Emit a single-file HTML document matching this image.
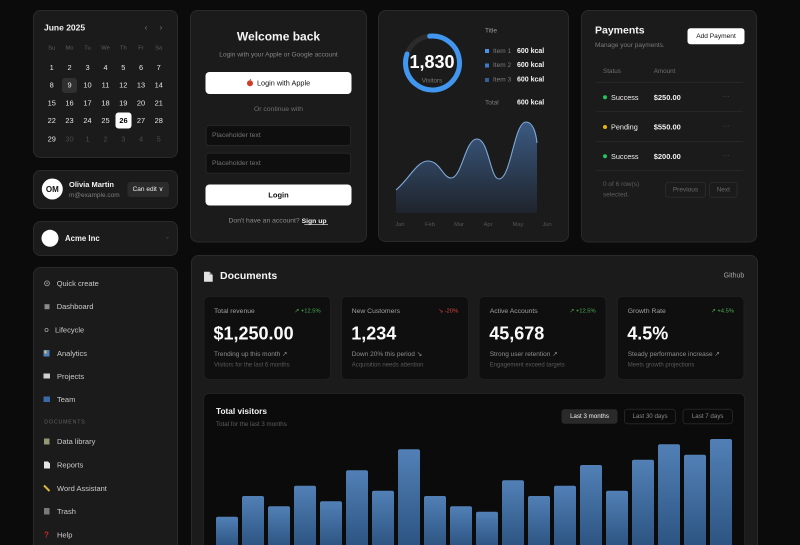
<!DOCTYPE html>
<html><head><meta charset="utf-8"><style>
html,body{margin:0;padding:0;background:#0b0b0b;width:800px;height:545px;overflow:hidden}
svg{display:block}
text{font-family:"Liberation Sans",sans-serif}
</style></head><body>
<svg width="800" height="545" viewBox="0 0 800 545" xmlns="http://www.w3.org/2000/svg" dominant-baseline="central">
<defs>
<linearGradient id="bar" x1="0" y1="0" x2="0" y2="1"><stop offset="0" stop-color="#5280b6"/><stop offset="1" stop-color="#2c5482"/></linearGradient>
<linearGradient id="area" x1="0" y1="122" x2="0" y2="213" gradientUnits="userSpaceOnUse"><stop offset="0" stop-color="#3b5a82"/><stop offset="1" stop-color="#1f242c"/></linearGradient>
</defs>
<rect width="800" height="545" fill="#0b0b0b"/>

<!-- Calendar -->
<rect x="33.5" y="10.5" width="144" height="147" rx="7" fill="#1b1b1b" stroke="#2a2a2a"/>
<text x="44" y="27.5" font-size="8.5" font-weight="bold" fill="#f2f2f2">June 2025</text>
<text x="146" y="27.5" font-size="8" fill="#777" text-anchor="middle">‹</text>
<text x="161" y="27.5" font-size="8" fill="#777" text-anchor="middle">›</text>
<g font-size="5.8" fill="#5e5e5e" text-anchor="middle">
<text x="51.7" y="48.7">Su</text><text x="69.5" y="48.7">Mo</text><text x="87.5" y="48.7">Tu</text><text x="105.5" y="48.7">We</text><text x="123.3" y="48.7">Th</text><text x="141" y="48.7">Fr</text><text x="158.7" y="48.7">Sa</text>
</g>
<rect x="62" y="78" width="15" height="15" rx="3" fill="#303030"/>
<rect x="115.5" y="112.5" width="16" height="16" rx="3" fill="#ffffff"/>
<g font-size="7.4" fill="#e6e6e6" text-anchor="middle">
<text x="51.7" y="67.3">1</text><text x="69.5" y="67.3">2</text><text x="87.5" y="67.3">3</text><text x="105.5" y="67.3">4</text><text x="123.3" y="67.3">5</text><text x="141" y="67.3">6</text><text x="158.7" y="67.3">7</text>
<text x="51.7" y="85.2">8</text><text x="69.5" y="85.2">9</text><text x="87.5" y="85.2">10</text><text x="105.5" y="85.2">11</text><text x="123.3" y="85.2">12</text><text x="141" y="85.2">13</text><text x="158.7" y="85.2">14</text>
<text x="51.7" y="102.9">15</text><text x="69.5" y="102.9">16</text><text x="87.5" y="102.9">17</text><text x="105.5" y="102.9">18</text><text x="123.3" y="102.9">19</text><text x="141" y="102.9">20</text><text x="158.7" y="102.9">21</text>
<text x="51.7" y="120.7">22</text><text x="69.5" y="120.7">23</text><text x="87.5" y="120.7">24</text><text x="105.5" y="120.7">25</text><text x="123.5" y="120.7" fill="#000" font-weight="bold">26</text><text x="141" y="120.7">27</text><text x="158.7" y="120.7">28</text>
<text x="51.7" y="139">29</text>
</g>
<g font-size="7.4" fill="#4a4a4a" text-anchor="middle">
<text x="69.5" y="139">30</text><text x="87.5" y="139">1</text><text x="105.5" y="139">2</text><text x="123.3" y="139">3</text><text x="141" y="139">4</text><text x="158.7" y="139">5</text>
</g>

<!-- User card -->
<rect x="33.5" y="170.5" width="144" height="38" rx="7" fill="#1b1b1b" stroke="#2a2a2a"/>
<circle cx="52.3" cy="189" r="10.5" fill="#fff"/>
<text x="52.3" y="189.3" font-size="8" font-weight="bold" fill="#111" text-anchor="middle">OM</text>
<text x="69" y="184.3" font-size="7.5" font-weight="bold" fill="#f2f2f2">Olivia Martin</text>
<text x="69" y="195.7" font-size="6.5" fill="#7e7e7e">m@example.com</text>
<rect x="127.5" y="182" width="41.5" height="15" rx="3" fill="#2b2b2b"/>
<text x="148" y="189.5" font-size="6.5" fill="#eee" text-anchor="middle">Can edit ∨</text>

<!-- Acme -->
<rect x="33.5" y="221.5" width="144" height="34" rx="7" fill="#1b1b1b" stroke="#2a2a2a"/>
<circle cx="50" cy="238.3" r="8.5" fill="#fff"/>
<text x="65" y="238.3" font-size="7.8" font-weight="bold" fill="#f2f2f2">Acme Inc</text>
<text x="167.5" y="237.5" font-size="5" fill="#666" text-anchor="middle">⌄</text>

<!-- Sidebar -->
<rect x="33.5" y="267.5" width="144" height="290" rx="7" fill="#1b1b1b" stroke="#2a2a2a"/>
<g font-size="7.5" fill="#cacaca">
<circle cx="47" cy="283.3" r="2.4" fill="none" stroke="#999" stroke-width="0.9"/><circle cx="47" cy="283.3" r="0.8" fill="#999"/>
<text x="56.7" y="283.3">Quick create</text>
<rect x="44.5" y="304.2" width="5" height="5" fill="#8a8a8a"/>
<text x="56.7" y="306.7">Dashboard</text>
<circle cx="46.5" cy="330" r="1.6" fill="none" stroke="#999" stroke-width="0.8"/>
<text x="55" y="330">Lifecycle</text>
<rect x="43.5" y="350" width="6" height="6.5" fill="#4d7fb8"/><rect x="44.5" y="350.5" width="2" height="3" fill="#d9c96a"/>
<text x="57" y="353.3">Analytics</text>
<rect x="43.5" y="373.5" width="6.5" height="5" fill="#d0d0d0"/>
<text x="57" y="376.3">Projects</text>
<rect x="43.5" y="396.5" width="6.5" height="5.5" fill="#3a6aa6"/>
<text x="57" y="399.3">Team</text>
<text x="44.3" y="422.7" font-size="5.3" fill="#636363" letter-spacing="0.8">DOCUMENTS</text>
<rect x="44" y="438.5" width="5.5" height="6" fill="#8f9a74"/>
<text x="57" y="441.7">Data library</text>
<path d="M44 461.5h4l2 2v5h-6z" fill="#e6e6e6"/>
<text x="57" y="465">Reports</text>
<path d="M44 485.5l5.5 5.5" stroke="#e0b440" stroke-width="2"/>
<text x="57" y="488.3">Word Assistant</text>
<rect x="44" y="508" width="5.5" height="6.5" fill="#7a7a7a"/>
<text x="57" y="511.3">Trash</text>
<text x="46.5" y="535" font-size="8" font-weight="bold" fill="#c62828" text-anchor="middle">?</text>
<text x="57" y="535">Help</text>
</g>

<!-- Login card -->
<rect x="190.5" y="10.5" width="176" height="231.5" rx="7" fill="#1b1b1b" stroke="#2a2a2a"/>
<text x="278.5" y="36.7" font-size="12" font-weight="bold" fill="#f5f5f5" text-anchor="middle">Welcome back</text>
<text x="278.5" y="55" font-size="6.6" fill="#858585" text-anchor="middle">Login with your Apple or Google account</text>
<rect x="205.5" y="72" width="146" height="22" rx="4" fill="#fff"/>
<circle cx="250" cy="83.3" r="3" fill="#d23a2a"/><path d="M250 80.3l1-1.3" stroke="#4a8a2a" stroke-width="0.8"/>
<text x="257" y="83" font-size="7.3" fill="#111">Login with Apple</text>
<text x="278.5" y="109.3" font-size="6.8" fill="#6f6f6f" text-anchor="middle">Or continue with</text>
<rect x="206" y="125.5" width="144.5" height="20" rx="3" fill="#0e0e0e" stroke="#252525"/>
<text x="212" y="135.5" font-size="6.8" fill="#727272">Placeholder text</text>
<rect x="206" y="153.3" width="144.5" height="20" rx="3" fill="#0e0e0e" stroke="#252525"/>
<text x="212" y="163.3" font-size="6.8" fill="#727272">Placeholder text</text>
<rect x="205.5" y="184.5" width="146" height="21" rx="4" fill="#fff"/>
<text x="278.5" y="195" font-size="7.5" font-weight="bold" fill="#111" text-anchor="middle">Login</text>
<text x="228.5" y="221" font-size="6.8" fill="#8d8d8d">Don't have an account? <tspan fill="#f2f2f2" font-weight="bold">Sign up</tspan></text>
<line x1="304.3" y1="224.6" x2="328" y2="224.6" stroke="#f2f2f2" stroke-width="0.6"/>

<!-- Visitors card -->
<rect x="378.5" y="10.5" width="190" height="231" rx="7" fill="#1b1b1b" stroke="#2a2a2a"/>
<circle cx="432.5" cy="63" r="27" fill="none" stroke="#2b2b2b" stroke-width="5"/>
<circle cx="432.5" cy="63" r="27" fill="none" stroke="#4196ef" stroke-width="5" stroke-dasharray="139 200" stroke-linecap="round" transform="rotate(264 432.5 63)"/>
<text x="432" y="62" font-size="18" font-weight="bold" fill="#fff" text-anchor="middle">1,830</text>
<text x="432" y="81" font-size="6.3" fill="#7a7a7a" text-anchor="middle">Visitors</text>
<text x="485" y="31" font-size="6.5" fill="#9a9a9a">Title</text>
<rect x="485" y="49" width="4" height="4" fill="#4a92e6"/>
<rect x="485" y="63.5" width="4" height="4" fill="#3b79c4"/>
<rect x="485" y="78" width="4" height="4" fill="#33609a"/>
<g font-size="6.5" fill="#7d7d7d">
<text x="493" y="51.3">Item 1</text><text x="493" y="65.7">Item 2</text><text x="493" y="80">Item 3</text><text x="485" y="103">Total</text>
</g>
<g font-size="7" font-weight="bold" fill="#f2f2f2">
<text x="517" y="51.3">600 kcal</text><text x="517" y="65.7">600 kcal</text><text x="517" y="80">600 kcal</text><text x="517" y="103">600 kcal</text>
</g>
<path d="M396,190 C410,178 417,161 428,161 C440,161 443,178 451,178 C462,178 465,139 477,139 C489,139 490,179 499,179 C511,179 514,122 526,122 C533,122 536,133 537,143 L537,213 L396,213 Z" fill="url(#area)"/>
<path d="M396,190 C410,178 417,161 428,161 C440,161 443,178 451,178 C462,178 465,139 477,139 C489,139 490,179 499,179 C511,179 514,122 526,122 C533,122 536,133 537,143" fill="none" stroke="#7ea8da" stroke-width="1.1"/>
<g font-size="5.8" fill="#555" text-anchor="middle">
<text x="400" y="225">Jan</text><text x="430" y="225">Feb</text><text x="459" y="225">Mar</text><text x="488" y="225">Apr</text><text x="518" y="225">May</text><text x="547" y="225">Jun</text>
</g>

<!-- Payments -->
<rect x="581.5" y="10.5" width="175" height="231.5" rx="7" fill="#1b1b1b" stroke="#2a2a2a"/>
<text x="595" y="30.7" font-size="10.5" font-weight="bold" fill="#f5f5f5">Payments</text>
<text x="595" y="45.5" font-size="6.5" fill="#7a7a7a">Manage your payments.</text>
<rect x="687.5" y="28.3" width="57" height="16" rx="3" fill="#fff"/>
<text x="716" y="36.5" font-size="6.6" fill="#111" text-anchor="middle">Add Payment</text>
<text x="603" y="71.7" font-size="6.3" fill="#6e6e6e">Status</text>
<text x="653.7" y="71.7" font-size="6.3" fill="#6e6e6e">Amount</text>
<g stroke="#2b2b2b" stroke-width="0.8">
<line x1="596" y1="82.3" x2="743" y2="82.3"/><line x1="596" y1="111.7" x2="743" y2="111.7"/><line x1="596" y1="141.7" x2="743" y2="141.7"/><line x1="596" y1="170.7" x2="743" y2="170.7"/>
</g>
<circle cx="605" cy="97.3" r="2" fill="#22c55e"/><circle cx="605" cy="127" r="2" fill="#eab308"/><circle cx="605" cy="156.3" r="2" fill="#22c55e"/>
<g font-size="7.3" fill="#f0f0f0">
<text x="611" y="97.3">Success</text><text x="611" y="127">Pending</text><text x="611" y="156.3">Success</text>
</g>
<g font-size="7.5" font-weight="bold" fill="#f0f0f0">
<text x="653.7" y="97.3">$250.00</text><text x="653.7" y="127">$550.00</text><text x="653.7" y="156.3">$200.00</text>
</g>
<g font-size="7" fill="#555" text-anchor="middle">
<text x="726" y="97">···</text><text x="726" y="126.7">···</text><text x="726" y="156">···</text>
</g>
<text x="603" y="184.3" font-size="6.5" fill="#5e5e5e">0 of 6 row(s)</text>
<text x="603" y="195" font-size="6.5" fill="#5e5e5e">selected.</text>
<rect x="665.5" y="182.3" width="40" height="15" rx="3" fill="#1b1b1b" stroke="#2a2a2a"/>
<text x="685.5" y="189.8" font-size="6.5" fill="#6a6a6a" text-anchor="middle">Previous</text>
<rect x="709.5" y="182.3" width="27.5" height="15" rx="3" fill="#1b1b1b" stroke="#2a2a2a"/>
<text x="723.3" y="189.8" font-size="6.5" fill="#6a6a6a" text-anchor="middle">Next</text>

<!-- Documents panel -->
<rect x="191.5" y="255.5" width="566" height="300" rx="7" fill="#1b1b1b" stroke="#2a2a2a"/>
<path d="M204 271.7h5.5l3.2 3.2v6.8h-8.7z" fill="#e2e2e2"/><path d="M209.5 271.7v3.2h3.2" fill="#9a9a9a"/>
<text x="220" y="276" font-size="10.5" font-weight="bold" fill="#f5f5f5">Documents</text>
<text x="744.3" y="276" font-size="7" fill="#a5a5a5" text-anchor="end">Github</text>

<g fill="#0f0f0f" stroke="#1f1f1f">
<rect x="204" y="296.5" width="126.5" height="83" rx="5"/>
<rect x="341.5" y="296.5" width="127" height="83" rx="5"/>
<rect x="479" y="296.5" width="127" height="83" rx="5"/>
<rect x="617.3" y="296.5" width="126.7" height="83" rx="5"/>
</g>
<g font-size="6.8" fill="#a0a0a0">
<text x="214" y="311.7">Total revenue</text><text x="351.7" y="311.7">New Customers</text><text x="489.7" y="311.7">Active Accounts</text><text x="627.7" y="311.7">Growth Rate</text>
</g>
<g font-size="5.8" text-anchor="end">
<text x="320.7" y="311.7" fill="#4caf50">↗ +12.5%</text>
<text x="458.3" y="311.7" fill="#d9443a">↘ -20%</text>
<text x="595.7" y="311.7" fill="#4caf50">↗ +12.5%</text>
<text x="734" y="311.7" fill="#4caf50">↗ +4.5%</text>
</g>
<g font-size="18" font-weight="bold" fill="#fafafa">
<text x="213.5" y="333.3">$1,250.00</text><text x="351.2" y="333.3">1,234</text><text x="489.2" y="333.3">45,678</text><text x="627.2" y="333.3">4.5%</text>
</g>
<g font-size="6.5" fill="#8e8e8e">
<text x="214" y="354.7">Trending up this month ↗</text><text x="351.7" y="354.7">Down 20% this period ↘</text><text x="489.7" y="354.7">Strong user retention ↗</text><text x="627.7" y="354.7">Steady performance increase ↗</text>
</g>
<g font-size="6" fill="#5a5a5a">
<text x="214" y="365.7">Visitors for the last 6 months</text><text x="351.7" y="365.7">Acquisition needs attention</text><text x="489.7" y="365.7">Engagement exceed targets</text><text x="627.7" y="365.7">Meets growth projections</text>
</g>

<!-- Total visitors -->
<rect x="203.5" y="393.5" width="541" height="160" rx="5" fill="#0b0b0b" stroke="#222"/>
<text x="216" y="411" font-size="8.3" font-weight="bold" fill="#f5f5f5">Total visitors</text>
<text x="216" y="424.3" font-size="6.2" fill="#5e5e5e">Total for the last 3 months</text>
<rect x="561.5" y="409.3" width="56" height="14.5" rx="3" fill="#2a2a2a"/>
<text x="589.5" y="416.6" font-size="6.2" fill="#f0f0f0" text-anchor="middle">Last 3 months</text>
<rect x="624.5" y="409.3" width="51" height="14.5" rx="3" fill="#0b0b0b" stroke="#242424"/>
<text x="650" y="416.6" font-size="6.2" fill="#8a8a8a" text-anchor="middle">Last 30 days</text>
<rect x="683" y="409.3" width="49.5" height="14.5" rx="3" fill="#0b0b0b" stroke="#242424"/>
<text x="707.7" y="416.6" font-size="6.2" fill="#8a8a8a" text-anchor="middle">Last 7 days</text>
<g fill="url(#bar)">
<rect x="216" y="516.7" width="22" height="30" rx="2"/>
<rect x="242" y="496" width="22" height="50.7" rx="2"/>
<rect x="268" y="506.3" width="22" height="40.4" rx="2"/>
<rect x="294" y="485.7" width="22" height="61" rx="2"/>
<rect x="320" y="501.3" width="22" height="45.4" rx="2"/>
<rect x="346" y="470.3" width="22" height="76.4" rx="2"/>
<rect x="372" y="490.7" width="22" height="56" rx="2"/>
<rect x="398" y="449.3" width="22" height="97.4" rx="2"/>
<rect x="424" y="496" width="22" height="50.7" rx="2"/>
<rect x="450" y="506.3" width="22" height="40.4" rx="2"/>
<rect x="476" y="511.7" width="22" height="35" rx="2"/>
<rect x="502" y="480.3" width="22" height="66.4" rx="2"/>
<rect x="528" y="496" width="22" height="50.7" rx="2"/>
<rect x="554" y="485.7" width="22" height="61" rx="2"/>
<rect x="580" y="465" width="22" height="81.7" rx="2"/>
<rect x="606" y="490.7" width="22" height="56" rx="2"/>
<rect x="632" y="459.7" width="22" height="87" rx="2"/>
<rect x="658" y="444.3" width="22" height="102.4" rx="2"/>
<rect x="684" y="454.7" width="22" height="92" rx="2"/>
<rect x="710" y="439" width="22" height="107.7" rx="2"/>
</g>
</svg>
</body></html>
